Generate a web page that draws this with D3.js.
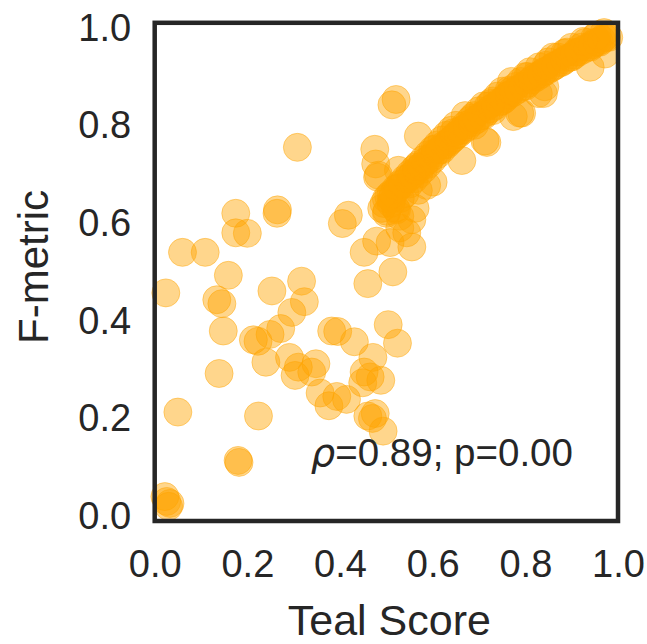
<!DOCTYPE html>
<html>
<head>
<meta charset="utf-8">
<script src="https://cdn.jsdelivr.net/npm/d3@7"></script>
<style>
  body { margin: 0; background: #fff; }
  text { font-family: "Liberation Sans", Arial, sans-serif; fill: #262626; }
</style>
</head>
<body>
<svg id="chart" width="647" height="644"></svg>
<script>
// scattered points (Teal Score, F-metric)
const looseX = [0.175,0.265,0.264,0.175,0.200,0.060,0.109,0.159,0.024,0.134,0.145,0.253,0.317,0.323,0.296,0.148,0.272,0.249,0.213,0.223,
  0.240,0.291,0.310,0.303,0.348,0.339,0.139,0.357,0.376,0.393,0.414,0.382,0.395,0.431,0.504,0.524,0.471,0.452,0.488,0.449,
  0.465,0.050,0.224,0.460,0.470,0.476,0.493,0.460,0.514,0.452,0.479,0.508,0.555,0.405,0.418,0.180,0.182,0.026,0.033,0.022,
  0.030,0.308,0.521,0.512,0.475,0.477,0.481,0.569,0.526];
const looseY = [0.620,0.627,0.620,0.580,0.579,0.540,0.540,0.493,0.457,0.443,0.435,0.461,0.481,0.439,0.417,0.379,0.384,0.372,0.361,0.358,
  0.315,0.325,0.305,0.288,0.312,0.295,0.292,0.252,0.226,0.245,0.239,0.379,0.378,0.357,0.392,0.354,0.325,0.295,0.278,0.273,
  0.285,0.213,0.205,0.205,0.200,0.210,0.174,0.476,0.500,0.540,0.563,0.560,0.551,0.599,0.616,0.114,0.110,0.030,0.026,0.040,
  0.020,0.755,0.853,0.842,0.751,0.721,0.694,0.778,0.708];

// the dense band
const bandX = [0.49,0.50,0.50,0.51,0.51,0.52,0.52,0.53,0.53,0.54,0.54,0.55,0.55,0.56,0.56,0.57,0.57,0.58,0.58,0.59,
  0.59,0.60,0.60,0.61,0.61,0.62,0.62,0.63,0.63,0.64,0.64,0.65,0.65,0.66,0.67,0.67,0.68,0.69,0.69,0.70,
  0.71,0.71,0.72,0.73,0.73,0.74,0.75,0.75,0.76,0.77,0.77,0.78,0.79,0.80,0.80,0.81,0.82,0.83,0.84,0.85,
  0.86,0.86,0.87,0.88,0.89,0.90,0.90,0.91,0.92,0.93,0.94,0.95,0.95,0.96,0.97,0.97,0.98,
  0.587,0.601,0.663,0.713,0.717,0.774,0.788,0.792,0.828,0.839,0.842,0.940,0.972,
  0.522,0.562,0.555,0.529,0.544,0.569,0.483,0.501,0.529,0.512,
  0.495,0.505,0.515,0.525,0.535,0.545,0.555,0.565,0.575,0.585,0.595,0.605,0.615,0.625,0.635,0.645,0.655,0.665,0.675,0.685,
  0.695,0.705,0.715,0.725,0.735,0.745,0.755,0.765,0.775,0.785,0.795,0.805,0.815,0.825,0.835,0.845,0.855,0.865,0.875,0.885,
  0.895,0.905,0.915,0.925,0.935,0.945,0.955,0.965,0.975,0.955,0.925,0.885,0.845,0.805,0.765,0.725,0.685,0.645,0.605,0.565];
const bandY = [0.63,0.62,0.65,0.64,0.66,0.63,0.67,0.65,0.68,0.66,0.69,0.68,0.70,0.69,0.71,0.70,0.72,0.71,0.73,0.72,
  0.74,0.73,0.75,0.74,0.76,0.75,0.77,0.76,0.78,0.77,0.79,0.78,0.80,0.79,0.80,0.82,0.81,0.82,0.80,0.83,
  0.82,0.84,0.84,0.83,0.85,0.86,0.85,0.87,0.86,0.87,0.89,0.88,0.89,0.88,0.90,0.91,0.90,0.92,0.91,0.93,
  0.92,0.94,0.94,0.93,0.95,0.94,0.96,0.95,0.96,0.97,0.96,0.97,0.98,0.97,0.98,0.99,0.98,
  0.677,0.684,0.728,0.768,0.765,0.818,0.825,0.825,0.865,0.865,0.879,0.919,0.946,
  0.627,0.630,0.607,0.590,0.580,0.667,0.698,0.624,0.614,0.650,
  0.640,0.655,0.660,0.672,0.680,0.690,0.698,0.708,0.716,0.726,0.733,0.743,0.750,0.760,0.766,0.774,0.782,0.790,0.797,0.806,
  0.812,0.820,0.826,0.834,0.840,0.848,0.854,0.862,0.868,0.874,0.880,0.886,0.893,0.899,0.905,0.911,0.917,0.923,0.928,0.934,
  0.939,0.944,0.950,0.955,0.960,0.965,0.970,0.975,0.980,0.985,0.972,0.948,0.923,0.900,0.872,0.845,0.815,0.785,0.752,0.715];

const ticks = [0.0, 0.2, 0.4, 0.6, 0.8, 1.0];
const xLabel = "Teal Score";
const yLabel = "F-metric";
const rho = "0.89";
const pval = "0.00";

const svg = d3.select("#chart");
const mLeft = 154.7, mRight = 618, mTop = 22.8, mBottom = 521;

const x = d3.scaleLinear().domain([0, 1]).range([mLeft, mRight]);
const y = d3.scaleLinear().domain([-0.01, 1.01]).range([mBottom, mTop]);

const pts = looseX.map((v, i) => [v, looseY[i]])
  .concat(bandX.map((v, i) => [v, bandY[i]]));

svg.append("g")
  .selectAll("circle")
  .data(pts)
  .enter()
  .append("circle")
  .attr("cx", d => x(d[0]))
  .attr("cy", d => y(d[1]))
  .attr("r", 14)
  .attr("fill", "#ffa500")
  .attr("fill-opacity", 0.45)
  .attr("stroke", "#ffa500")
  .attr("stroke-opacity", 0.45)
  .attr("stroke-width", 1);

// frame
svg.append("rect")
  .attr("x", mLeft).attr("y", mTop)
  .attr("width", mRight - mLeft).attr("height", mBottom - mTop)
  .attr("fill", "none")
  .attr("stroke", "#262626")
  .attr("stroke-width", 4.5);

const xAxis = d3.axisBottom(x).tickValues(ticks).tickFormat(d3.format(".1f")).tickSize(0).tickPadding(0);
const yAxis = d3.axisLeft(y).tickValues(ticks).tickFormat(d3.format(".1f")).tickSize(0).tickPadding(0);

const gx = svg.append("g").attr("transform", `translate(0,${mBottom})`).call(xAxis);
gx.select(".domain").remove();
gx.selectAll("text").attr("font-size", 38).attr("dy", null).attr("y", 56)
  .attr("font-family", "Liberation Sans, Arial, sans-serif").attr("fill", "#262626");

const gy = svg.append("g").attr("transform", `translate(${mLeft},0)`).call(yAxis);
gy.select(".domain").remove();
gy.selectAll("text").attr("font-size", 38).attr("x", -23.5).attr("dy", "0.33em")
  .attr("font-family", "Liberation Sans, Arial, sans-serif").attr("fill", "#262626");

svg.append("text")
  .attr("x", (mLeft + mRight) / 2 + 3)
  .attr("y", 635)
  .attr("text-anchor", "middle")
  .attr("font-size", 43)
  .text(xLabel);

svg.append("text")
  .attr("transform", `translate(48,267) rotate(-90)`)
  .attr("text-anchor", "middle")
  .attr("font-size", 42)
  .text(yLabel);

const note = svg.append("text")
  .attr("x", x(0.337))
  .attr("y", y(0.103))
  .attr("font-size", 38.5);
note.append("tspan").attr("font-style", "italic").attr("font-family", "DejaVu Sans").text("ρ");
note.append("tspan").text(`=${rho}; p=${pval}`);
</script>
</body>
</html>
